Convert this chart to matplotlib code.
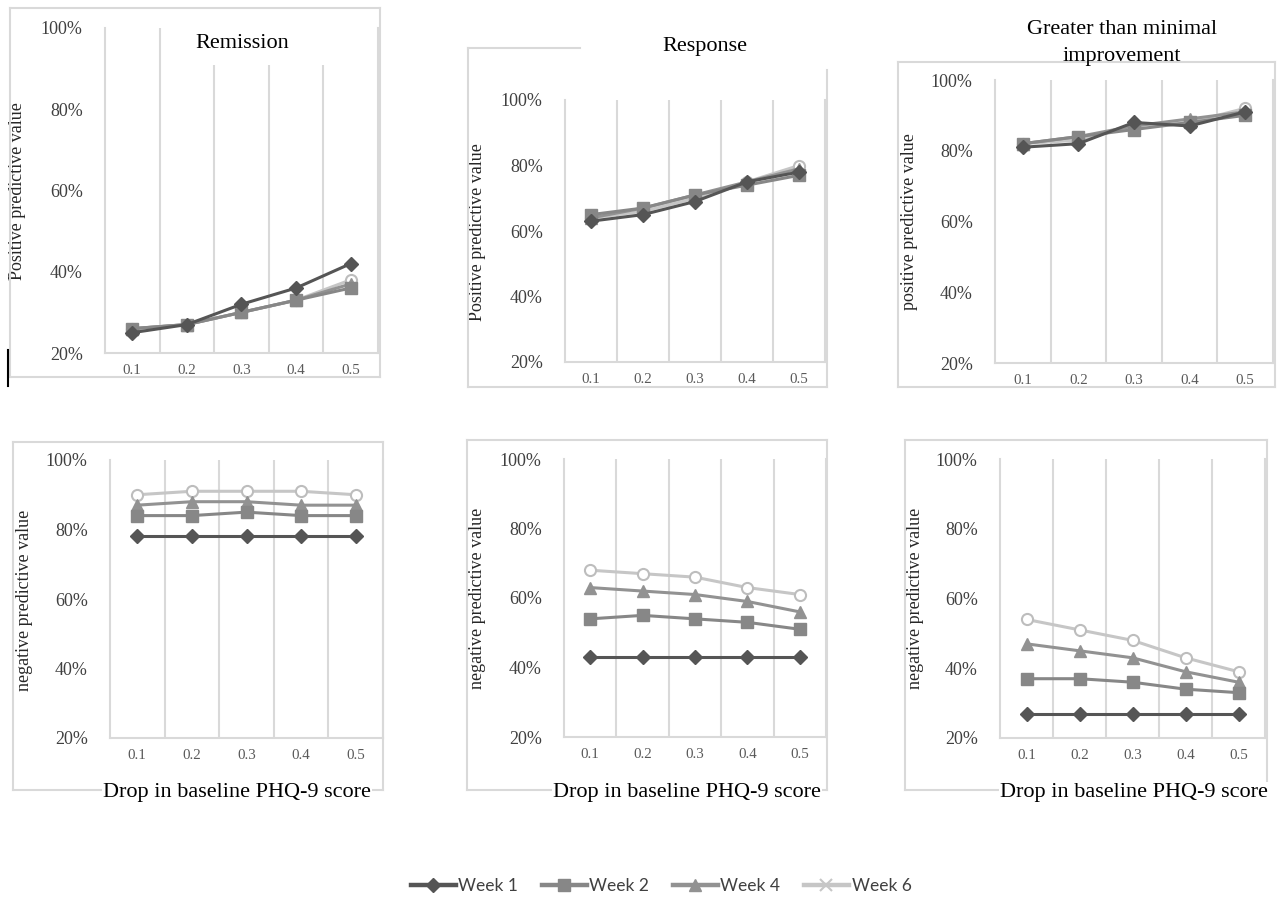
import matplotlib
matplotlib.use("Agg")
import matplotlib.pyplot as plt
from matplotlib.lines import Line2D
from matplotlib.patches import Rectangle
from matplotlib.ticker import FuncFormatter, FixedLocator

W, H = 1284, 899

# ---------------- data ----------------
drops = [0.1, 0.2, 0.3, 0.4, 0.5]
xtick_labels = ["0.1", "0.2", "0.3", "0.4", "0.5"]
yticks = [20, 40, 60, 80, 100]
weeks = ["Week 1", "Week 2", "Week 4", "Week 6"]

# Positive predictive value (%)
rem_ppv_w1 = [25, 27, 32, 36, 42]
rem_ppv_w2 = [26, 27, 30, 33, 36]
rem_ppv_w4 = [26, 27, 30, 33, 37]
rem_ppv_w6 = [26, 27, 30, 33, 38]

resp_ppv_w1 = [63, 65, 69, 75, 78]
resp_ppv_w2 = [65, 67, 71, 74, 77]
resp_ppv_w4 = [64, 67, 71, 75, 79]
resp_ppv_w6 = [64, 66, 70, 75, 80]

gmi_ppv_w1 = [81, 82, 88, 87, 91]
gmi_ppv_w2 = [82, 84, 86, 88, 90]
gmi_ppv_w4 = [82, 84, 87, 89, 91]
gmi_ppv_w6 = [82, 83, 87, 88, 92]

# Negative predictive value (%)
rem_npv_w1 = [78, 78, 78, 78, 78]
rem_npv_w2 = [84, 84, 85, 84, 84]
rem_npv_w4 = [87, 88, 88, 87, 87]
rem_npv_w6 = [90, 91, 91, 91, 90]

resp_npv_w1 = [43, 43, 43, 43, 43]
resp_npv_w2 = [54, 55, 54, 53, 51]
resp_npv_w4 = [63, 62, 61, 59, 56]
resp_npv_w6 = [68, 67, 66, 63, 61]

gmi_npv_w1 = [27, 27, 27, 27, 27]
gmi_npv_w2 = [37, 37, 36, 34, 33]
gmi_npv_w4 = [47, 45, 43, 39, 36]
gmi_npv_w6 = [54, 51, 48, 43, 39]

# ---------------- styles ----------------
SERIF = "Liberation Serif"
GRID = "#d9d9d9"
styles = {
    "Week 1": dict(color="#555555", marker="D", ms=6.8, mfc="#555555", mec="#555555"),
    "Week 2": dict(color="#878787", marker="s", ms=8, mfc="#878787", mec="#878787"),
    "Week 4": dict(color="#929292", marker="^", ms=8.5, mfc="#929292", mec="#929292"),
    "Week 6": dict(color="#c6c6c6", marker="o", ms=8, mfc="white", mec="#bdbdbd", mew=1.5),
}

fig = plt.figure(figsize=(W / 100, H / 100), dpi=100)
fig.patch.set_facecolor("white")


def fx(x):
    return x / W


def fy(y):
    return 1 - y / H


def frame_line(x0, y0, x1, y1, color=GRID, lw=1.5):
    fig.add_artist(Line2D([fx(x0), fx(x1)], [fy(y0), fy(y1)], color=color, lw=lw,
                          transform=fig.transFigure, zorder=5))


def make_axes(l, r, t, b, series, ylabel, ylab_x, ylab_y):
    ax = fig.add_axes([fx(l), fy(b), fx(r - l), (b - t) / H])
    ax.set_facecolor("none")
    for name in ["Week 6", "Week 4", "Week 2", "Week 1"]:
        st = styles[name]
        ax.plot(drops, series[name], lw=2.2, clip_on=False,
                zorder=3 + weeks.index("Week 6") - weeks.index(name), **st)
    ax.set_xlim(0.05, 0.55)
    ax.set_ylim(20, 100)
    ax.set_xticks(drops)
    ax.set_xticklabels(xtick_labels)
    ax.xaxis.set_minor_locator(FixedLocator([0.15, 0.25, 0.35, 0.45]))
    ax.grid(True, which="minor", axis="x", color=GRID, lw=1.5)
    ax.set_yticks(yticks)
    ax.yaxis.set_major_formatter(FuncFormatter(lambda v, p: f"{v:.0f}%"))
    ax.tick_params(axis="y", length=0, labelsize=13, labelcolor="#404040", pad=16)
    ax.tick_params(axis="x", length=0, labelsize=10.8, labelcolor="#595959", pad=8)
    ax.tick_params(which="minor", length=0)
    for lab in ax.get_xticklabels() + ax.get_yticklabels():
        lab.set_fontfamily(SERIF)
    for s in ["left", "bottom", "right"]:
        ax.spines[s].set_color(GRID)
        ax.spines[s].set_linewidth(1.5)
    ax.spines["top"].set_visible(False)
    fig.text(fx(ylab_x), fy(ylab_y), ylabel, rotation=90, ha="center", va="center",
             fontsize=13, family=SERIF, color="#262626")
    return ax


def ser(a, b, c, d):
    return {"Week 1": a, "Week 2": b, "Week 4": c, "Week 6": d}


# ---------------- top row (PPV) ----------------
make_axes(105, 378, 28, 353, ser(rem_ppv_w1, rem_ppv_w2, rem_ppv_w4, rem_ppv_w6),
          "Positive predictive value", 18, 191)
make_axes(565, 825, 100, 362, ser(resp_ppv_w1, resp_ppv_w2, resp_ppv_w4, resp_ppv_w6),
          "Positive predictive value", 478, 232)
make_axes(995, 1273, 80, 363, ser(gmi_ppv_w1, gmi_ppv_w2, gmi_ppv_w4, gmi_ppv_w6),
          "positive predictive value", 910, 222)

# ---------------- bottom row (NPV) ----------------
make_axes(110, 383, 460, 738, ser(rem_npv_w1, rem_npv_w2, rem_npv_w4, rem_npv_w6),
          "negative predictive value", 25, 600)
make_axes(564, 826, 459, 737, ser(resp_npv_w1, resp_npv_w2, resp_npv_w4, resp_npv_w6),
          "negative predictive value", 478, 598)
make_axes(1000, 1265, 459, 738, ser(gmi_npv_w1, gmi_npv_w2, gmi_npv_w4, gmi_npv_w6),
          "negative predictive value", 915, 598)

# ---------------- chart-area frames ----------------
# top-left
frame_line(10, 8, 380, 8); frame_line(10, 8, 10, 377)
frame_line(10, 377, 380, 377); frame_line(380, 8, 380, 377)
# top-middle (partly hidden by title)
frame_line(468, 48, 580, 48); frame_line(468, 48, 468, 387)
frame_line(468, 387, 827, 387); frame_line(827, 70, 827, 387)
# top-right
frame_line(898, 62, 1275, 62); frame_line(898, 62, 898, 387)
frame_line(898, 387, 1275, 387); frame_line(1275, 62, 1275, 387)
# bottom frames
for (l, t, r, b) in [(13, 442, 383, 790), (467, 440, 827, 790), (905, 440, 1267, 790)]:
    frame_line(l, t, r, t); frame_line(l, t, l, b)
    frame_line(l, b, r, b); frame_line(r, t, r, b)

# stray black mark at left edge
frame_line(8, 350, 8, 386, color="black", lw=1.5)

# title box of the remission chart covering gridlines
fig.add_artist(Rectangle((fx(163), fy(65)), fx(340 - 163), (65 - 28) / H,
                         transform=fig.transFigure, facecolor="white",
                         edgecolor="none", zorder=6))

# ---------------- titles ----------------
fig.text(fx(242), fy(44), "Remission", ha="center", va="center", fontsize=16,
         family=SERIF, color="black", zorder=7)
fig.text(fx(705), fy(47), "Response", ha="center", va="center", fontsize=16,
         family=SERIF, color="black", zorder=7)
fig.text(fx(1122), fy(30), "Greater than minimal", ha="center", va="center",
         fontsize=16, family=SERIF, color="black", zorder=7)
fig.text(fx(1122), fy(56), "improvement", ha="center", va="center",
         fontsize=16, family=SERIF, color="black", zorder=7)

# ---------------- x-axis titles ----------------
for cx in [237, 687, 1134]:
    fig.text(fx(cx), fy(793), "Drop in baseline PHQ-9 score", ha="center", va="center",
             fontsize=16, family=SERIF, color="black", zorder=7,
             bbox=dict(facecolor="white", edgecolor="none", pad=1.0))

# ---------------- legend ----------------
handles = []
for name in weeks:
    st = dict(styles[name])
    if name == "Week 6":
        st.update(marker="x", mfc=st["color"], mec=st["color"], mew=1.5)
    handles.append(Line2D([], [], lw=3.2, **st))
fig.legend(handles, weeks, loc="center", bbox_to_anchor=(fx(661), fy(886)), ncol=4,
           frameon=False, handlelength=2.6, handletextpad=0.15, columnspacing=1.35,
           prop=dict(family="Lato", size=12.5), labelcolor="#404040")

fig.savefig("out.png", dpi=100, facecolor="white")
